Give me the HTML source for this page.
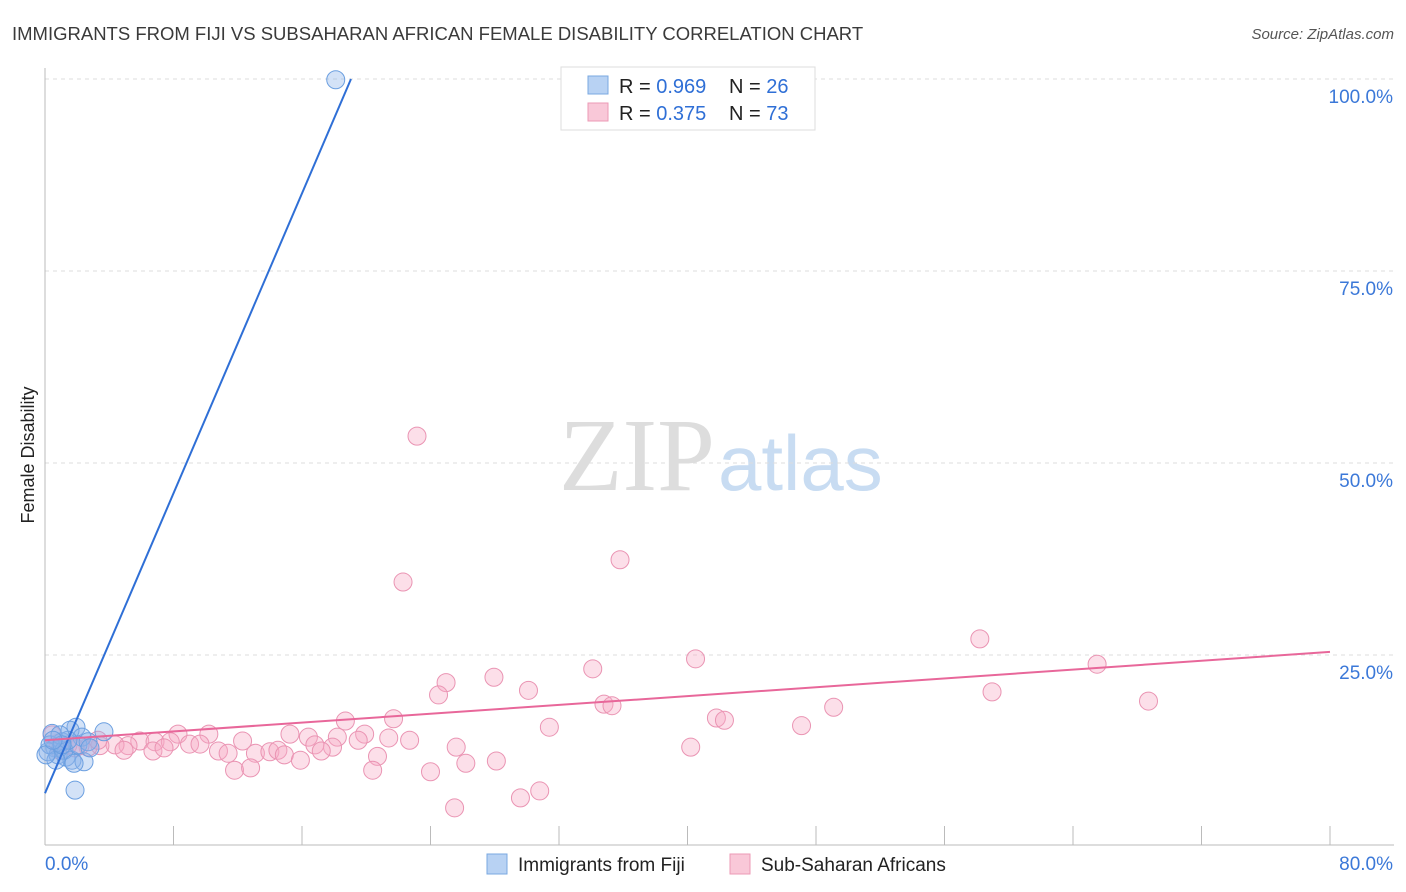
<!DOCTYPE html>
<html><head><meta charset="utf-8"><style>
body{margin:0;background:#fff;font-family:"Liberation Sans",sans-serif}
#c{position:absolute;left:0;top:0}
</style></head><body>
<svg id="c" width="1406" height="892">
<text x="12" y="40" font-size="18.5" fill="#3a3a3a">IMMIGRANTS FROM FIJI VS SUBSAHARAN AFRICAN FEMALE DISABILITY CORRELATION CHART</text>
<text x="1394" y="39" font-size="15" fill="#555" font-style="italic" text-anchor="end">Source: ZipAtlas.com</text>
<text x="715" y="490" font-size="104" fill="#ddd" font-family="Liberation Serif,serif" text-anchor="end">ZIP</text>
<text x="718" y="490" font-size="78" fill="#c8dcf2" text-anchor="start">atlas</text>
<text transform="translate(34,455) rotate(-90)" font-size="18" fill="#222" text-anchor="middle">Female Disability</text>
<g id="grid"></g><g id="pts"></g><g id="lines"></g>
<g>
<rect x="561" y="67" width="254" height="63" fill="#fff" stroke="#ddd"/>
<rect x="588" y="76" width="20" height="18" fill="#b8d2f3" stroke="#7aa8e0"/>
<rect x="588" y="103" width="20" height="18" fill="#f9c8d8" stroke="#ec9ab6"/>
<text x="619" y="93" font-size="20" fill="#222">R = <tspan fill="#2f6fd6">0.969</tspan></text>
<text x="729" y="93" font-size="20" fill="#222">N = <tspan fill="#2f6fd6">26</tspan></text>
<text x="619" y="120" font-size="20" fill="#222">R = <tspan fill="#2f6fd6">0.375</tspan></text>
<text x="729" y="120" font-size="20" fill="#222">N = <tspan fill="#2f6fd6">73</tspan></text>
</g>
<g>
<rect x="487" y="854" width="20" height="20" fill="#b8d2f3" stroke="#7aa8e0"/>
<text x="518" y="871" font-size="19" fill="#222">Immigrants from Fiji</text>
<rect x="730" y="854" width="20" height="20" fill="#f9c8d8" stroke="#ec9ab6"/>
<text x="761" y="871" font-size="19" fill="#222">Sub-Saharan Africans</text>
</g>
</svg>
<script>
const yTicks=[25,50,75,100];
const yTickLabels=["25.0%","50.0%","75.0%","100.0%"];
const xTickCount=10;
const xEndLabels=["0.0%","80.0%"];
const fijiX=[18.1,3.67,1.93,0.44,1.56,2.3,1.06,0.62,0.19,0.81,1.31,1.68,2.43,0.31,1.18,2.05,2.68,1.43,0.93,0.68,1.81,2.8,0.06,1.87,1.06,0.5];
const fijiY=[99.9,15.0,15.6,14.8,15.2,14.3,13.7,12.9,12.4,12.0,11.7,11.3,11.1,13.3,12.6,13.3,13.7,13.9,14.6,11.3,10.9,12.9,12.0,7.4,13.3,13.9];
const ssaX=[23.16,22.29,35.8,58.2,40.5,65.5,34.1,27.95,24.97,30.1,58.96,24.5,34.8,35.3,49.1,68.7,18.7,21.7,41.8,42.3,31.4,47.1,10.2,8.28,15.25,16.4,18.2,19.9,21.4,22.7,12.3,5.9,6.85,7.8,9.0,9.65,5.17,4.36,3.42,2.68,2.18,1.43,0.81,0.93,1.87,16.8,17.9,19.5,25.6,40.2,4.92,6.72,7.41,10.8,11.4,13.1,14.0,14.5,14.9,15.9,17.2,20.7,28.1,26.2,11.8,12.8,20.4,24.0,30.8,29.6,25.5,0.44,3.3];
const ssaY=[53.5,34.5,37.4,27.1,24.5,23.8,23.2,22.1,21.4,20.4,20.2,19.8,18.6,18.4,18.2,19.0,16.4,16.7,16.8,16.5,15.6,15.8,14.7,14.7,14.7,14.3,14.3,14.7,14.2,13.9,13.8,13.8,13.7,13.7,13.4,13.4,13.2,13.3,13.2,13.0,13.2,13.3,13.5,12.6,12.9,13.3,13.0,13.9,13.0,13.0,12.6,12.5,12.9,12.5,12.2,12.2,12.4,12.6,12.0,11.3,12.5,11.8,11.2,10.9,10.0,10.3,10.0,9.8,7.3,6.4,5.1,14.6,13.9];
const fijiTrend=[[0,7.0],[19.05,100]];
const ssaTrend=[[0,13.9],[80,25.4]];
const NS='http://www.w3.org/2000/svg';
const X=v=>45+v*(1285/80), Y=v=>847-v*7.68;
function mk(tag,attrs,parent){const e=document.createElementNS(NS,tag);for(const k in attrs)e.setAttribute(k,attrs[k]);parent.appendChild(e);return e;}
const grid=document.getElementById('grid');
yTicks.forEach((t,i)=>{
  const l=mk('line',{x1:45,x2:1394,y1:Y(t),y2:Y(t),stroke:'#ddd','stroke-dasharray':'4,4'},grid);
  
  
  const tx=mk('text',{x:1393,y:Y(t)+24,'font-size':19,fill:'#3b78d8','text-anchor':'end'},grid);
  tx.textContent=yTickLabels[i];
  
  
});
const ax=mk('line',{x1:45,x2:1394,y1:845,y2:845,stroke:'#bbb'},grid);


const ay=mk('line',{x1:45,x2:45,y1:68,y2:845,stroke:'#bbb'},grid);


for(let i=1;i<=xTickCount;i++){
  const t=mk('line',{x1:X(i*8),x2:X(i*8),y1:826,y2:845,stroke:'#bbb'},grid);
  
  
}
const xl0=mk('text',{x:45,y:870,'font-size':19,fill:'#3b78d8'},grid);xl0.textContent=xEndLabels[0];


const xl1=mk('text',{x:1393,y:870,'font-size':19,fill:'#3b78d8','text-anchor':'end'},grid);xl1.textContent=xEndLabels[1];


const pts=document.getElementById('pts');
ssaX.forEach((x,i)=>{
  const c=mk('circle',{cx:X(x),cy:Y(ssaY[i]),r:9,fill:'rgba(246,170,197,0.38)',stroke:'#ea94b3','stroke-width':1},pts);
  
  
});
fijiX.forEach((x,i)=>{
  const c=mk('circle',{cx:X(x),cy:Y(fijiY[i]),r:9,fill:'rgba(140,180,235,0.38)',stroke:'#6b9fe0','stroke-width':1},pts);
  
  
});
const lines=document.getElementById('lines');
const l1=mk('line',{x1:X(fijiTrend[0][0]),y1:Y(fijiTrend[0][1]),x2:X(fijiTrend[1][0]),y2:Y(fijiTrend[1][1]),stroke:'#2f6fd6','stroke-width':2},lines);


const l2=mk('line',{x1:X(ssaTrend[0][0]),y1:Y(ssaTrend[0][1]),x2:X(ssaTrend[1][0]),y2:Y(ssaTrend[1][1]),stroke:'#e8679a','stroke-width':2},lines);


</script>
</body></html>
